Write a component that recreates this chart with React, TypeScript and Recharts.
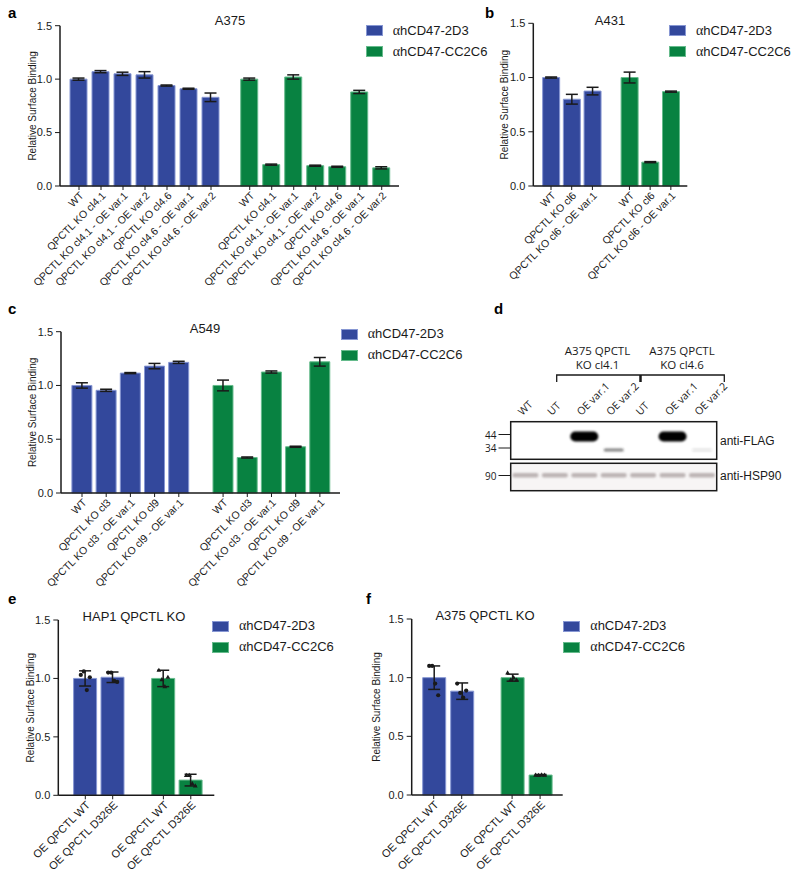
import React from 'react'
import { ComposedChart, Bar, Cell, ErrorBar, Scatter, XAxis, YAxis, Legend } from 'recharts'

const BLUE = '#33489c'
const BLUE_EDGE = '#8797d3'
const GREEN = '#088241'
const GREEN_EDGE = '#66bb8c'
const INK = '#1a1a1a'
const FONT = '"Liberation Sans", Arial, sans-serif'
const BLOT_FONT = '"Open Sans", "Noto Sans", sans-serif'

const seriesNames = ['αhCD47-2D3', 'αhCD47-CC2C6']
const yTicks = [0, 0.5, 1.0, 1.5]

// a - A375
const aLabels = [
  'WT', 'QPCTL KO cl4.1', 'QPCTL KO cl4.1 - OE var.1', 'QPCTL KO cl4.1 - OE var.2',
  'QPCTL KO cl4.6', 'QPCTL KO cl4.6 - OE var.1', 'QPCTL KO cl4.6 - OE var.2',
]
const a2D3 = [1.0, 1.07, 1.05, 1.04, 0.94, 0.91, 0.83]
const a2D3Err = [0.01, 0.01, 0.015, 0.03, 0.005, 0.005, 0.04]
const aCC2C6 = [1.0, 0.2, 1.02, 0.19, 0.18, 0.88, 0.17]
const aCC2C6Err = [0.01, 0.005, 0.02, 0.005, 0.005, 0.015, 0.01]

// b - A431
const bLabels = ['WT', 'QPCTL KO cl6', 'QPCTL KO cl6 - OE var.1']
const b2D3 = [1.0, 0.8, 0.875]
const b2D3Err = [0.005, 0.045, 0.035]
const bCC2C6 = [1.0, 0.22, 0.87]
const bCC2C6Err = [0.05, 0.005, 0.005]

// c - A549
const cLabels = ['WT', 'QPCTL KO cl3', 'QPCTL KO cl3 - OE var.1', 'QPCTL KO cl9', 'QPCTL KO cl9 - OE var.1']
const c2D3 = [1.0, 0.955, 1.115, 1.18, 1.215]
const c2D3Err = [0.025, 0.01, 0.005, 0.025, 0.01]
const cCC2C6 = [1.0, 0.33, 1.125, 0.43, 1.22]
const cCC2C6Err = [0.05, 0.005, 0.01, 0.005, 0.04]

// d - western blot
const blotLanes = ['WT', 'UT', 'OE var.1', 'OE var.2', 'UT', 'OE var.1', 'OE var.2']
const flag44 = [0, 0, 1, 0, 0, 1, 0]
const flag34 = [0, 0, 0, 0.6, 0, 0, 0.12]
const hsp90 = [1, 1, 1, 1, 1, 1, 1]

// e - HAP1 QPCTL KO
const eLabels = ['OE QPCTL WT', 'OE QPCTL D326E']
const e2D3 = [1.0, 1.01]
const e2D3Err = [0.065, 0.045]
const eCC2C6 = [1.0, 0.13]
const eCC2C6Err = [0.07, 0.05]
const e2D3Reps = [[1.03, 1.06, 0.9, 1.01], [1.05, 1.05, 0.98, 0.97]]
const eCC2C6Reps = [[1.07, 0.99, 0.93, 1.01], [0.17, 0.17, 0.1, 0.08]]

// f - A375 QPCTL KO
const fLabels = ['OE QPCTL WT', 'OE QPCTL D326E']
const f2D3 = [1.0, 0.885]
const f2D3Err = [0.1, 0.07]
const fCC2C6 = [1.0, 0.17]
const fCC2C6Err = [0.03, 0.005]
const f2D3Reps = [[1.1, 1.1, 0.95, 0.85], [0.95, 0.87, 0.83, 0.89]]
const fCC2C6Reps = [[1.04, 0.98, 1.0, 0.98], [0.17, 0.168, 0.172, 0.17]]

type PanelSpec = {
  left: number; top: number; width: number; height: number
  axisX: number; axisEnd: number; yTop: number; yBottom: number
  pitch: number; padLeft: number; gap: number; barSize: number; xh: number; xFont: number
  yLabelX: number; legendX: number; legendY: number
  labels: string[]; blue: number[]; blueErr: number[]; green: number[]; greenErr: number[]
  blueReps?: number[][]; greenReps?: number[][]
}

function LegendBox() {
  const cols = [[BLUE, BLUE_EDGE], [GREEN, GREEN_EDGE]]
  return (
    <div style={{ fontFamily: FONT, fontSize: 13, color: INK }}>
      {seriesNames.map((name, i) => (
        <div key={name} style={{ display: 'flex', alignItems: 'center', height: 11, marginBottom: 10 }}>
          <div style={{ width: 17, height: 11, boxSizing: 'border-box', background: cols[i][0], border: `1px solid ${cols[i][1]}` }} />
          <span style={{ marginLeft: 10, whiteSpace: 'nowrap' }}>
            <span style={{ fontFamily: '"Liberation Serif", serif', fontSize: 14 }}>{name[0]}</span>
            {name.slice(1)}
          </span>
        </div>
      ))}
    </div>
  )
}

function XTick(props: any) {
  const { x, y, payload, labelOf, fontSize } = props
  return (
    <text
      x={x}
      y={y}
      dy="0.71em"
      textAnchor="end"
      fontSize={fontSize}
      fontFamily={FONT}
      fill={INK}
      transform={`rotate(-45, ${x}, ${y})`}
    >
      {labelOf(payload.value)}
    </text>
  )
}

function RepDot(props: any) {
  const { cx, cy, payload } = props
  if (cx == null || cy == null) return null
  const x = cx + (payload.rep - 1.5) * 3
  if (payload.grp === 1) {
    return <path d={`M${x},${cy - 2.6} L${x + 2.4},${cy + 1.6} L${x - 2.4},${cy + 1.6} Z`} fill={INK} />
  }
  return <circle cx={x} cy={cy} r={2.1} fill={INK} />
}

function Panel({ s }: { s: PanelSpec }) {
  const n = s.labels.length
  const yw = 45
  const rows = [
    ...s.labels.map((label, i) => ({ x: i, label, value: s.blue[i], err: s.blueErr[i], grp: 0 })),
    ...s.labels.map((label, i) => ({ x: n - 1 + s.gap + i, label, value: s.green[i], err: s.greenErr[i], grp: 1 })),
  ]
  const reps: { x: number; y: number; rep: number; grp: number }[] = []
  s.blueReps?.forEach((vals, i) => vals.forEach((y, r) => reps.push({ x: rows[i].x, y, rep: r, grp: 0 })))
  s.greenReps?.forEach((vals, i) => vals.forEach((y, r) => reps.push({ x: rows[n + i].x, y, rep: r, grp: 1 })))
  const lo = -s.padLeft / s.pitch
  const hi = lo + (s.axisEnd - s.axisX) / s.pitch
  const labelOf = (v: number) => rows.find((r) => Math.abs(r.x - v) < 1e-6)?.label ?? ''
  const margin = {
    top: s.yTop - s.top,
    left: s.axisX - s.left - yw,
    right: s.left + s.width - s.axisEnd,
    bottom: s.top + s.height - s.yBottom - s.xh,
  }
  return (
    <div style={{ position: 'absolute', left: s.left, top: s.top }}>
      <ComposedChart width={s.width} height={s.height} data={rows} margin={margin}>
        <XAxis
          type="number"
          dataKey="x"
          domain={[lo, hi]}
          allowDataOverflow
          ticks={rows.map((r) => r.x)}
          interval={0}
          height={s.xh}
          tickSize={4}
          tickMargin={1}
          axisLine={{ stroke: INK, strokeWidth: 1.5 }}
          tickLine={{ stroke: INK }}
          tick={(p: any) => <XTick {...p} labelOf={labelOf} fontSize={s.xFont} />}
        />
        <YAxis
          type="number"
          domain={[0, 1.5]}
          ticks={yTicks}
          width={yw}
          tickSize={5}
          tickMargin={3}
          tickFormatter={(v: number) => v.toFixed(1)}
          axisLine={{ stroke: INK, strokeWidth: 1.5 }}
          tickLine={{ stroke: INK }}
          tick={{ fontSize: 11, fill: INK, fontFamily: FONT }}
          label={{
            value: 'Relative Surface Binding',
            angle: -90,
            position: 'insideLeft',
            offset: s.yLabelX - (s.axisX - yw),
            style: { textAnchor: 'middle', fontSize: 10, fill: INK, fontFamily: FONT },
          }}
        />
        <Legend
          layout="vertical"
          align="center"
          verticalAlign="middle"
          wrapperStyle={{ left: s.legendX - s.left, top: s.legendY - s.top, width: 170 }}
          content={() => <LegendBox />}
        />
        <Bar dataKey="value" barSize={s.barSize} isAnimationActive={false}>
          {rows.map((r, i) => (
            <Cell key={i} fill={r.grp ? GREEN : BLUE} stroke={r.grp ? GREEN_EDGE : BLUE_EDGE} strokeWidth={1} />
          ))}
          <ErrorBar dataKey="err" width={6} stroke={INK} strokeWidth={1.5} direction="y" />
        </Bar>
        {reps.length > 0 && (
          <Scatter data={reps} dataKey="y" isAnimationActive={false} shape={RepDot} />
        )}
      </ComposedChart>
    </div>
  )
}

const panels: PanelSpec[] = [
  {
    left: 0, top: 0, width: 500, height: 300, axisX: 60, axisEnd: 399, yTop: 25.7, yBottom: 186,
    pitch: 22, padLeft: 19, gap: 1.76, barSize: 17, xh: 100, xFont: 10.5, yLabelX: 32, legendX: 365.7, legendY: 25,
    labels: aLabels, blue: a2D3, blueErr: a2D3Err, green: aCC2C6, greenErr: aCC2C6Err,
  },
  {
    left: 480, top: 0, width: 320, height: 300, axisX: 533.3, axisEnd: 687.3, yTop: 23.3, yBottom: 186,
    pitch: 20.7, padLeft: 17.7, gap: 1.79, barSize: 17, xh: 100, xFont: 10.5, yLabelX: 504, legendX: 669, legendY: 25,
    labels: bLabels, blue: b2D3, blueErr: b2D3Err, green: bCC2C6, greenErr: bCC2C6Err,
  },
  {
    left: 0, top: 300, width: 500, height: 300, axisX: 61, axisEnd: 340, yTop: 331.7, yBottom: 493,
    pitch: 24.2, padLeft: 21, gap: 1.83, barSize: 20, xh: 100, xFont: 10.5, yLabelX: 32, legendX: 340.7, legendY: 328.7,
    labels: cLabels, blue: c2D3, blueErr: c2D3Err, green: cCC2C6, greenErr: cCC2C6Err,
  },
  {
    left: 0, top: 590, width: 360, height: 291, axisX: 58.3, axisEnd: 214.3, yTop: 620, yBottom: 795.3,
    pitch: 27.4, padLeft: 27, gap: 1.85, barSize: 23, xh: 80, xFont: 11, yLabelX: 30.7, legendX: 212, legendY: 620.7,
    labels: eLabels, blue: e2D3, blueErr: e2D3Err, green: eCC2C6, greenErr: eCC2C6Err,
    blueReps: e2D3Reps, greenReps: eCC2C6Reps,
  },
  {
    left: 360, top: 590, width: 440, height: 291, axisX: 411.7, axisEnd: 562.7, yTop: 619, yBottom: 795,
    pitch: 28, padLeft: 22, gap: 1.8, barSize: 23, xh: 80, xFont: 11, yLabelX: 376.7, legendX: 563.3, legendY: 620.7,
    labels: fLabels, blue: f2D3, blueErr: f2D3Err, green: fCC2C6, greenErr: fCC2C6Err,
    blueReps: f2D3Reps, greenReps: fCC2C6Reps,
  },
]

const titles = [
  { text: 'A375', x: 230, y: 20 },
  { text: 'A431', x: 610, y: 20 },
  { text: 'A549', x: 205, y: 328 },
  { text: 'HAP1 QPCTL KO', x: 134, y: 616 },
  { text: 'A375 QPCTL KO', x: 485, y: 615 },
]
const letters = [
  { t: 'a', x: 8, y: 18 }, { t: 'b', x: 485, y: 18 },
  { t: 'c', x: 8, y: 314 }, { t: 'd', x: 494, y: 314 },
  { t: 'e', x: 8, y: 604 }, { t: 'f', x: 366, y: 604 },
]

function Blot() {
  const x0 = 510.7
  const x1 = 716.7
  const lw = (x1 - x0) / blotLanes.length
  const cx = (i: number) => x0 + lw * (i + 0.5)
  const headers = [
    { a: 'A375 QPCTL', b: 'KO cl4.1', x: 597.5 },
    { a: 'A375 QPCTL', b: 'KO cl4.6', x: 682 },
  ]
  const markers = [
    { t: '44', y: 434.5 },
    { t: '34', y: 448 },
    { t: '90', y: 475.5 },
  ]
  return (
    <g>
      <defs>
        <filter id="blur" x="-50%" y="-100%" width="200%" height="300%">
          <feGaussianBlur stdDeviation="1" />
        </filter>
      </defs>
      {headers.map((h) => (
        <g key={h.b} fontFamily={BLOT_FONT} fontSize={11.5} fill={INK} textAnchor="middle">
          <text x={h.x} y={350} dominantBaseline="central">{h.a}</text>
          <text x={h.x} y={364.5} dominantBaseline="central">{h.b}</text>
        </g>
      ))}
      <path d="M556.7,382 V375 H724.3 V382" fill="none" stroke={INK} strokeWidth={1.3} />
      <line x1={640.5} y1={375} x2={640.5} y2={382} stroke={INK} strokeWidth={2.5} />
      {blotLanes.map((l, i) => (
        <text
          key={i}
          x={cx(i) - 3}
          y={416}
          fontFamily={BLOT_FONT}
          fontSize={10.5}
          fill={INK}
          transform={`rotate(-45, ${cx(i) - 3}, 416)`}
        >
          {l}
        </text>
      ))}
      <rect x={x0} y={421.7} width={x1 - x0} height={37.6} fill="#fff" stroke={INK} strokeWidth={1.5} />
      <rect x={x0} y={463.3} width={x1 - x0} height={27.4} fill="#f7f5f5" stroke={INK} strokeWidth={1.5} />
      {blotLanes.map((_, i) => (
        <g key={i} filter="url(#blur)">
          {flag44[i] > 0 && <rect x={cx(i) - 14} y={431.5} width={28} height={10} rx={5} fill="#000" opacity={flag44[i]} />}
          {flag34[i] > 0 && <rect x={cx(i) - 10} y={448.5} width={20} height={3} rx={1.5} fill="#333" opacity={flag34[i]} />}
          <rect x={cx(i) - 13} y={473} width={26} height={4.5} rx={2} fill="#b3a9a9" opacity={hsp90[i] * 0.85} />
        </g>
      ))}
      {markers.map((m) => (
        <g key={m.t}>
          <text x={496.5} y={m.y} textAnchor="end" dominantBaseline="central" fontFamily={BLOT_FONT} fontSize={10} fill={INK}>{m.t}</text>
          <line x1={498.5} y1={m.y} x2={x0} y2={m.y} stroke={INK} strokeWidth={1} />
        </g>
      ))}
      <text x={720} y={441} dominantBaseline="central" fontFamily={FONT} fontSize={12} fill={INK}>anti-FLAG</text>
      <text x={720} y={475.5} dominantBaseline="central" fontFamily={FONT} fontSize={12} fill={INK}>anti-HSP90</text>
    </g>
  )
}

export default function App() {
  return (
    <div style={{ position: 'absolute', left: 0, top: 0, width: 800, height: 881, background: '#fff', fontFamily: FONT }}>
      {panels.map((s, i) => (
        <Panel key={i} s={s} />
      ))}
      <svg width={800} height={881} style={{ position: 'absolute', left: 0, top: 0, pointerEvents: 'none' }}>
        {titles.map((t) => (
          <text key={t.text} x={t.x} y={t.y} textAnchor="middle" dominantBaseline="central" fontFamily={FONT} fontSize={13} fill={INK}>
            {t.text}
          </text>
        ))}
        {letters.map((l) => (
          <text key={l.t} x={l.x} y={l.y} fontFamily={FONT} fontWeight="bold" fontSize={15} fill="#000">
            {l.t}
          </text>
        ))}
        <Blot />
      </svg>
    </div>
  )
}
